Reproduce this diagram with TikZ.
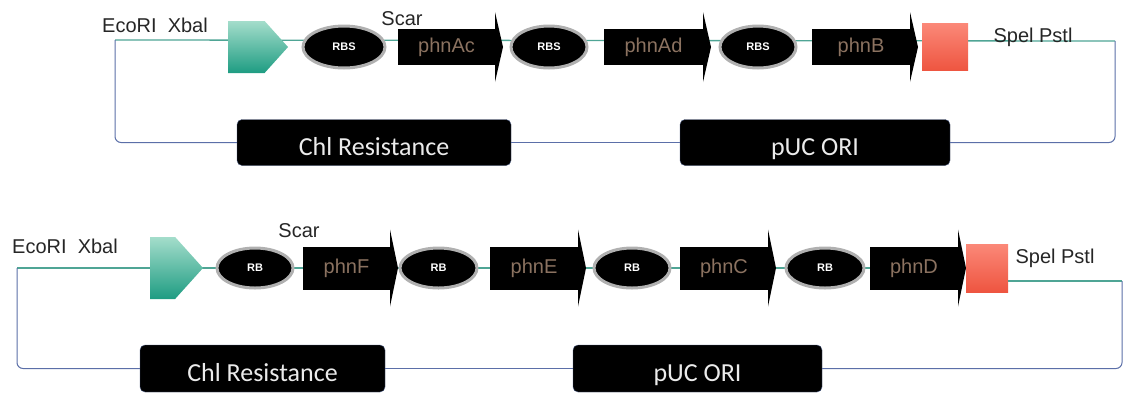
\documentclass[tikz,border=0pt]{standalone}
\usepackage{fontspec}
\setmainfont{Liberation Sans}
\newfontfamily\boxfont{Carlito}
\usetikzlibrary{positioning, shapes.geometric, shapes.symbols, backgrounds}

\definecolor{bbteal}{HTML}{4FA595}
\definecolor{ringblue}{HTML}{5B6FA8}
\definecolor{promtop}{HTML}{A4DDCB}
\definecolor{prombot}{HTML}{1E9C82}
\definecolor{termtop}{HTML}{FB8878}
\definecolor{termbot}{HTML}{EE5540}
\definecolor{rbsring}{HTML}{B0B0B0}
\definecolor{genetxt}{HTML}{8B7260}
\definecolor{boxline}{HTML}{4A5A80}

\begin{document}
\begin{tikzpicture}[
  x=1pt, y=-1pt,
  promoter/.style={signal, signal to=east, signal pointer angle=96, top color=promtop, bottom color=prombot, inner sep=0pt, outer sep=0pt, anchor=west},
  rbs/.style={ellipse, fill=black, draw=rbsring, line width=3pt, inner sep=0pt, outer sep=0pt, minimum width=#1, minimum height=42pt, text=white, font=\fontsize{11}{11}\selectfont\bfseries},
  gene/.style={rectangle, fill=black, inner sep=0pt, outer sep=0pt, minimum width=#1, minimum height=36pt, text=genetxt, font=\fontsize{20}{20}\selectfont},
  term/.style={rectangle, top color=termtop, bottom color=termbot, inner sep=0pt, outer sep=0pt, minimum width=46pt, minimum height=47pt},
  site/.style={anchor=base, inner sep=0pt, text=black!85, font=\fontsize{20}{20}\selectfont},
  part/.style={rectangle, rounded corners=5pt, fill=black, draw=boxline, inner sep=0pt, minimum height=46pt, text height=25pt, text depth=0pt, text=white!92!black, font=\boxfont\fontsize{26}{26}\selectfont},
  bb/.style={bbteal, line width=1.3pt},
  ring/.style={ringblue, line width=1pt, rounded corners=6pt}
]
\useasboundingbox (0,0) rectangle (1125,392);

% first construct
\node[promoter, minimum width=60pt, minimum height=52pt] (prom1) at (228,47) {};
\node[rbs=82pt, right=15pt of prom1] (rbs1) {RBS};
\node[gene=97pt, right=13pt of rbs1] (gAc) {phnAc};
\node[rbs=76pt, right=16pt of gAc] (rbs2) {RBS};
\node[gene=99pt, right=17pt of rbs2] (gAd) {phnAd};
\node[rbs=76pt, right=17pt of gAd] (rbs3) {RBS};
\node[gene=98pt, right=16pt of rbs3] (gB) {phnB};
\node[term, right=12pt of gB] (red1) {};

\node[site] (eco1) at (155,32) {EcoRI\ \ Xbal};
\node[site] (scar1) at (402,25) {Scar};
\node[site] (spe1) at (1033,42) {Spel Pstl};

\node[part, minimum width=274pt] (chl1) at (374,142.5) {Chl Resistance};
\node[part, minimum width=270pt] (ori1) at (815,142.5) {pUC ORI};

% second construct
\node[promoter, minimum width=53pt, minimum height=62pt] (prom2) at (150,268) {};
\node[rbs=76pt, minimum height=40pt, right=14pt of prom2] (rb1) {RB};
\node[gene=87pt, minimum height=43pt, right=10pt of rb1] (gF) {phnF};
\node[rbs=77pt, minimum height=40pt, right=10pt of gF] (rb2) {RB};
\node[gene=88pt, minimum height=43pt, right=13pt of rb2] (gE) {phnE};
\node[rbs=76pt, minimum height=40pt, right=16pt of gE] (rb3) {RB};
\node[gene=88pt, minimum height=43pt, right=10pt of rb3] (gC) {phnC};
\node[rbs=78pt, minimum height=40pt, right=18pt of gC] (rb4) {RB};
\node[gene=88pt, minimum height=43pt, right=6pt of rb4] (gD) {phnD};
\node[term, minimum width=42pt, minimum height=48pt, right=8pt of gD] (red2) {};

\node[site] (eco2) at (65,253) {EcoRI\ \ Xbal};
\node[site] (scar2) at (299,237) {Scar};
\node[site] (spe2) at (1055,263) {Spel Pstl};

\node[part, minimum width=245pt, minimum height=47pt] (chl2) at (262.5,368.5) {Chl Resistance};
\node[part, minimum width=249pt, minimum height=47pt] (ori2) at (697.5,368.5) {pUC ORI};

% arrow heads on the genes
\foreach \g in {gAc,gAd,gB,gF,gE,gC,gD}
  \fill (\g.north east) -- ([yshift=17pt]\g.north east) -- ([xshift=8pt]\g.east)
    -- ([yshift=-17pt]\g.south east) -- (\g.south east) -- cycle;

% backbone and plasmid ring
\coordinate (tl) at (115,40);
\coordinate (tr) at (1115,41);
\coordinate (bl) at (17,268);
\coordinate (br) at (1122,281);
\begin{scope}[on background layer]
\draw[bb] (tl) -- (tr);
\draw[bb] (bl) -- (bl -| red2.west);
\end{scope}
\draw[bb] (red2.east |- br) -- (br);

\draw[ring] (tl) |- (chl1);
\draw[ring] (chl1) -- (ori1);
\draw[ring] (ori1) -| (tr);
\draw[ring] (bl) |- (chl2);
\draw[ring] (chl2) -- (ori2);
\draw[ring] (ori2) -| (br);
\end{tikzpicture}
\end{document}
